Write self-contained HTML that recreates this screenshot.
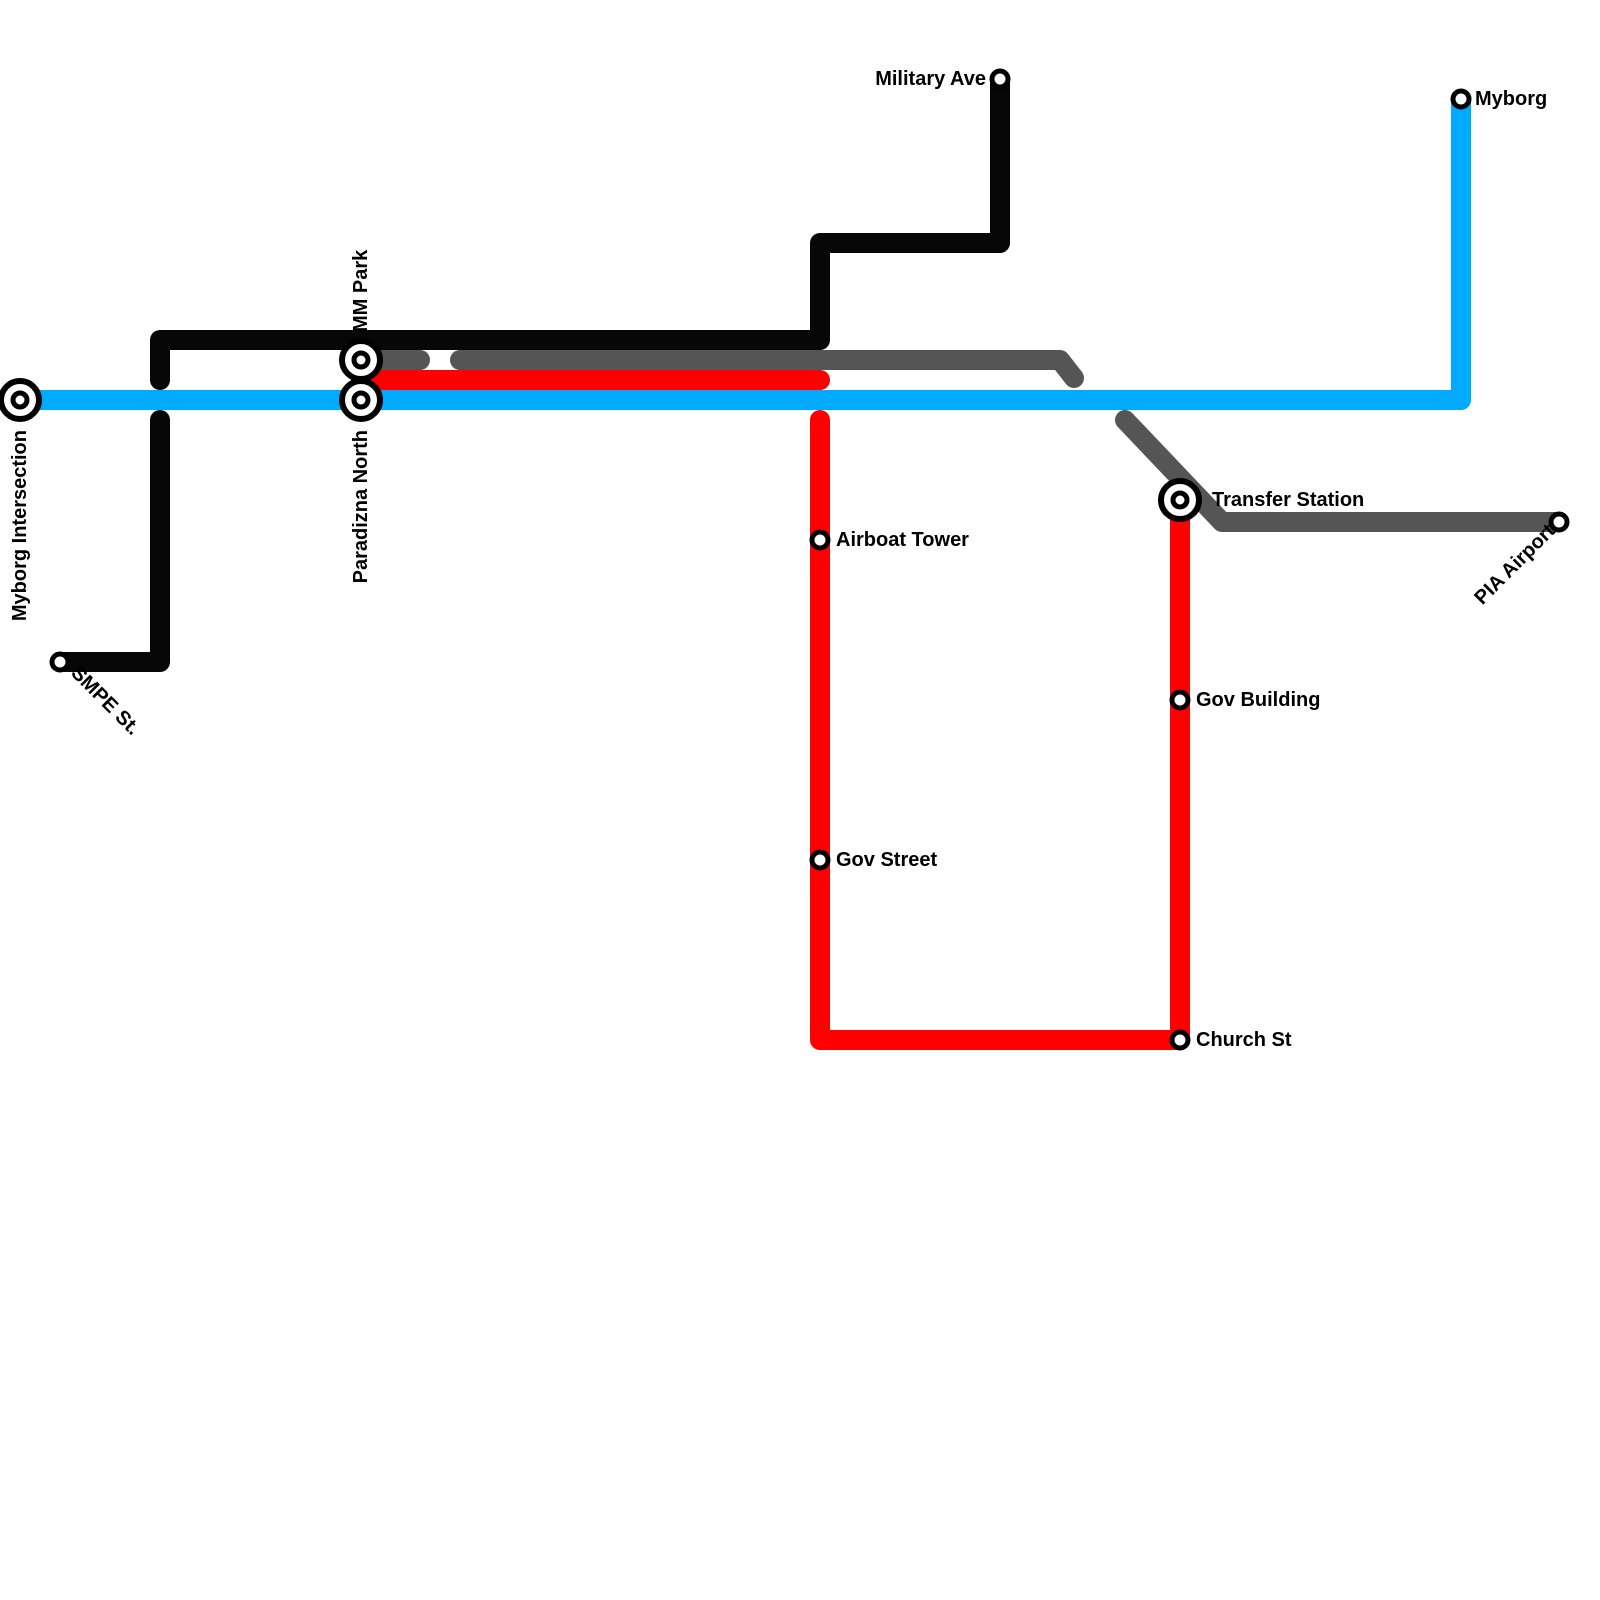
<!DOCTYPE html>
<html><head><meta charset="utf-8"><style>html,body{margin:0;padding:0;background:#fff}svg{display:block}text{font-family:"Liberation Sans",Arial,sans-serif;font-weight:bold;font-size:20px;fill:#000}</style></head>
<body>
<svg width="1600" height="1600" viewBox="0 0 1600 1600" xmlns="http://www.w3.org/2000/svg">
<g fill="none" stroke-width="20" stroke-linecap="round" stroke-linejoin="round">
<polyline stroke="#00aaff" points="20,400 1461,400 1461,99"/>
<polyline stroke="#070707" points="60,662 160,662 160,420"/>
<polyline stroke="#070707" points="160,380 160,340 820,340 820,243 1000,243 1000,79"/>
<polyline stroke="#555" points="361,360 420,360"/>
<polyline stroke="#555" points="460,360 1060,360 1074,378"/>
<polyline stroke="#555" points="1125,420 1222,522 1559,522"/>
<polyline stroke="#ff0000" points="361,380 820,380"/>
<polyline stroke="#ff0000" points="820,420 820,1040 1180,1040 1180,500"/>
</g>
<g stroke="#000" fill="#fff">
<g stroke-width="6">
<circle cx="20" cy="400" r="19"/>
<circle cx="361" cy="360" r="19"/>
<circle cx="361" cy="400" r="19"/>
<circle cx="1180" cy="500" r="19"/>
</g>
<g stroke-width="5">
<circle cx="20" cy="400" r="7"/>
<circle cx="361" cy="360" r="7"/>
<circle cx="361" cy="400" r="7"/>
<circle cx="1180" cy="500" r="7"/>
<circle cx="60" cy="662" r="8"/>
<circle cx="1000" cy="79" r="8"/>
<circle cx="1461" cy="99" r="8"/>
<circle cx="1559" cy="522" r="8"/>
<circle cx="820" cy="540" r="8"/>
<circle cx="820" cy="860" r="8"/>
<circle cx="1180" cy="700" r="8"/>
<circle cx="1180" cy="1040" r="8"/>
</g>
</g>
<text x="986" y="85" text-anchor="end">Military Ave</text>
<text x="1475" y="105">Myborg</text>
<text x="1212" y="506">Transfer Station</text>
<text x="836" y="546">Airboat Tower</text>
<text x="836" y="866">Gov Street</text>
<text x="1196" y="706">Gov Building</text>
<text x="1196" y="1046">Church St</text>
<text transform="translate(26,430) rotate(-90)" text-anchor="end">Myborg Intersection</text>
<text transform="translate(367,430) rotate(-90)" text-anchor="end">Paradizna North</text>
<text transform="translate(367,332) rotate(-90)">MM Park</text>
<text transform="translate(70,674) rotate(45)">SMPE St.</text>
<text transform="translate(1556,532) rotate(-45)" text-anchor="end">PIA Airport</text>
</svg>
</body></html>
